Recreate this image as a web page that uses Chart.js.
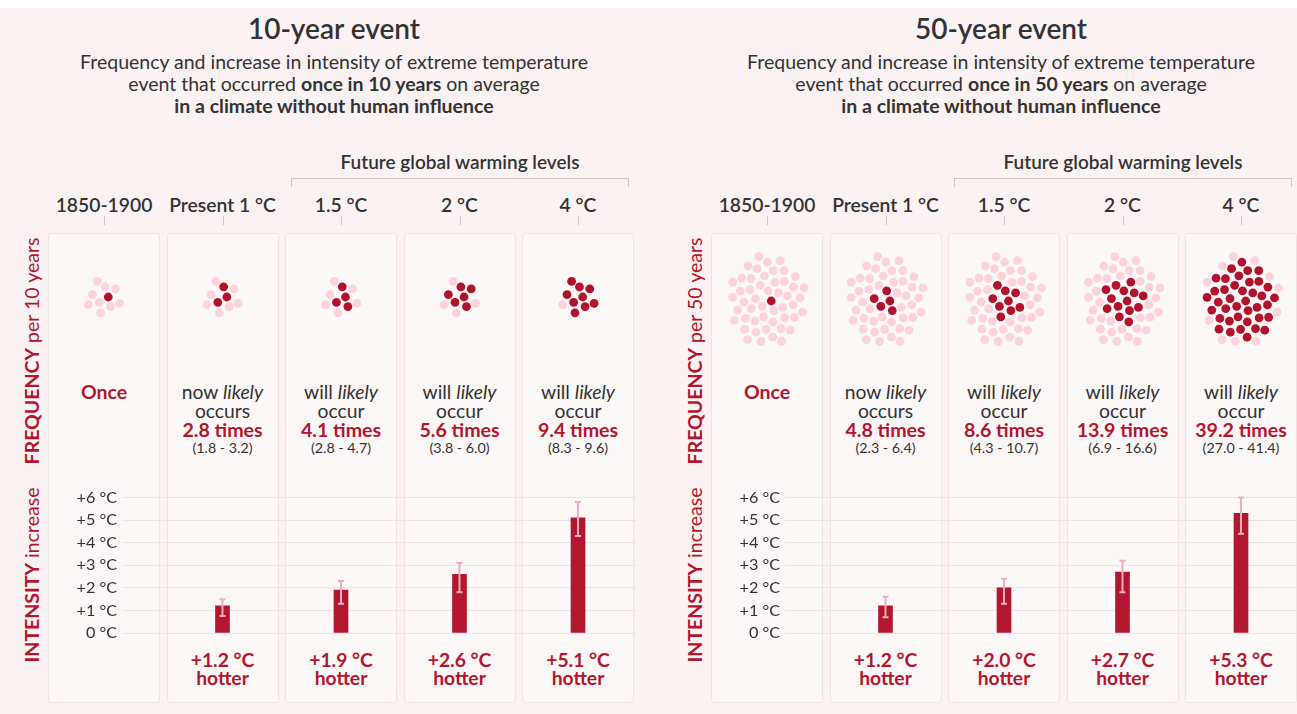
<!DOCTYPE html>
<html><head><meta charset="utf-8">
<script src="https://cdn.jsdelivr.net/npm/chart.js@4.4.1/dist/chart.umd.min.js"></script>
<style>
html,body{margin:0;padding:0;background:#fff;}
body{width:1297px;height:714px;overflow:hidden;position:relative;font-family:Lato,'Noto Sans',sans-serif;color:#333;}
#bg{position:absolute;left:0;top:8px;width:1297px;height:706px;background:#fbf3f3;}
.t{position:absolute;white-space:nowrap;transform:translate(-50%,-50%);text-align:center;line-height:1;}
.panel{position:absolute;top:233px;height:470px;width:112px;background:#fdf8f8;border:1px solid #f1e3e4;border-radius:3px;box-sizing:border-box;}
.red{color:#b3162f;font-weight:700 !important;}
.b{font-weight:600;}
.t b{font-weight:700;}
.rot{position:absolute;white-space:nowrap;transform:translate(-50%,-50%) rotate(-90deg);line-height:1;color:#b3162f;font-size:19.5px;}
.rot b{font-weight:700;}
.vl{position:absolute;width:1px;background:#cfc6c6;}
.hl{position:absolute;height:1px;background:#cfc6c6;}
canvas{position:absolute;}
</style>
</head><body>
<div id="bg"></div>
<script>
// ---------- data ----------
const categories = ['1850-1900', 'Present 1 °C', '1.5 °C', '2 °C', '4 °C'];
const yTickValues = [0, 1, 2, 3, 4, 5, 6];

const freq10 = [1, 2.8, 4.1, 5.6, 9.4];
const freq10Low = [null, 1.8, 2.8, 3.8, 8.3];
const freq10High = [null, 3.2, 4.7, 6.0, 9.6];
const intensity10 = [null, 1.2, 1.9, 2.6, 5.1];
const intensity10Low = [null, 0.75, 1.3, 1.8, 4.3];
const intensity10High = [null, 1.5, 2.3, 3.1, 5.8];

const freq50 = [1, 4.8, 8.6, 13.9, 39.2];
const freq50Low = [null, 2.3, 4.3, 6.9, 27.0];
const freq50High = [null, 6.4, 10.7, 16.6, 41.4];
const intensity50 = [null, 1.2, 2.0, 2.7, 5.3];
const intensity50Low = [null, 0.7, 1.3, 1.8, 4.4];
const intensity50High = [null, 1.6, 2.4, 3.2, 6.0];

// ---------- styles ----------
const RED = '#b3162f';
const DARK_DOT = '#b1132c';
const LIGHT_DOT = '#fcd3db';
const ERR = '#eab0b9';
const GRID = '#eee4e4';

const halves = [
  {x0: 0, titleX: 334, years: 10, title: '10-year event', freq: freq10, lo: freq10Low, hi: freq10High,
   val: intensity10, vlo: intensity10Low, vhi: intensity10High, dotY: 297},
  {x0: 663, titleX: 338, years: 50, title: '50-year event', freq: freq50, lo: freq50Low, hi: freq50High,
   val: intensity50, vlo: intensity50Low, vhi: intensity50High, dotY: 301}
];

const PANEL_LEFT = 48, PITCH = 118.5;
const colCenter = i => PANEL_LEFT + 56 + PITCH * i;

function txt(html, x, y, size, extra) {
  const d = document.createElement('div');
  d.className = 't ' + (extra || '');
  d.style.left = x + 'px'; d.style.top = y + 'px'; d.style.fontSize = size + 'px';
  d.innerHTML = html;
  document.body.appendChild(d);
  return d;
}
function box(cls, x, y, w, h) {
  const d = document.createElement('div');
  d.className = cls;
  d.style.left = x + 'px'; d.style.top = y + 'px';
  if (w != null) d.style.width = w + 'px';
  if (h != null) d.style.height = h + 'px';
  document.body.appendChild(d);
  return d;
}

const errorBarPlugin = {
  id: 'errbars',
  afterDatasetsDraw(chart, args, opts) {
    const {ctx, scales: {x, y}} = chart;
    ctx.save();
    ctx.strokeStyle = ERR; ctx.lineWidth = 2;
    opts.lo.forEach((l, i) => {
      if (l == null) return;
      const px = x.getPixelForValue(i);
      const y1 = y.getPixelForValue(l), y2 = y.getPixelForValue(opts.hi[i]);
      ctx.beginPath();
      ctx.moveTo(px, y1); ctx.lineTo(px, y2);
      ctx.moveTo(px - 3, y1); ctx.lineTo(px + 3, y1);
      ctx.moveTo(px - 3, y2); ctx.lineTo(px + 3, y2);
      ctx.stroke();
    });
    ctx.restore();
  }
};

halves.forEach(h => {
  const X = h.x0;
  txt(h.title, X + h.titleX, 28, 28, 'b');
  txt('Frequency and increase in intensity of extreme temperature', X + h.titleX, 62, 19.5);
  txt('event that occurred <b>once in ' + h.years + ' years</b> on average', X + h.titleX, 84, 19.5);
  txt('<b>in a climate without human influence</b>', X + h.titleX, 106, 19.5);

  txt('Future global warming levels', X + 460, 161, 19, 'b');
  box('hl', X + 291, 178, 337, 1);
  box('vl', X + 291, 178, 1, 9);
  box('vl', X + 628, 178, 1, 9);

  categories.forEach((c, i) => {
    const cx = X + colCenter(i);
    txt(c, cx, 205, 19.3, 'b');
    box('vl', cx, 216, 1, 9);
    box('panel', X + PANEL_LEFT + PITCH * i, 233, null, null);
  });

  txt('<b>FREQUENCY</b> per ' + h.years + ' years', X + 32, 351, 19.5, '').className = 'rot';
  txt('<b>INTENSITY</b> increase', X + 32, 575, 19.5, '').className = 'rot';

  // frequency texts
  h.freq.forEach((f, i) => {
    const cx = X + colCenter(i);
    if (i === 0) { txt('Once', cx, 392, 19.5, 'red'); return; }
    txt((i === 1 ? 'now' : 'will') + ' <i>likely</i>', cx, 392, 19.3);
    txt(i === 1 ? 'occurs' : 'occur', cx, 411, 19.3);
    txt(f.toFixed(1) + ' times', cx, 430, 19.6, 'red');
    txt('(' + h.lo[i].toFixed(1) + ' - ' + h.hi[i].toFixed(1) + ')', cx, 448, 14.3);
    txt('+' + h.val[i].toFixed(1) + ' °C', cx, 660, 19.3, 'red');
    txt('hotter', cx, 678, 19.3, 'red');
  });

  // ---------- dots (scatter) ----------
  const dark = [], light = [];
  const GA = Math.PI * (3 - Math.sqrt(5));
  const c = 5.6, stretch = 1.15;
  h.freq.forEach((f, i) => {
    const n = h.years, nd = Math.round(f);
    for (let k = 0; k < n; k++) {
      const r = c * Math.sqrt(k + 0.5), th = k * GA;
      const p = {x: i + r * Math.cos(th) / PITCH, y: r * Math.sin(th) * stretch};
      (k < nd ? dark : light).push(p);
    }
  });
  const dc = document.createElement('canvas');
  const dLeft = X + PANEL_LEFT + 56 - PITCH / 2;
  const dW = PITCH * 5;
  dc.width = Math.round(dW); dc.height = 120;
  dc.style.left = dLeft + 'px'; dc.style.top = (h.dotY - 60) + 'px';
  dc.style.width = Math.round(dW) + 'px'; dc.style.height = '120px';
  document.body.appendChild(dc);
  new Chart(dc, {
    type: 'scatter',
    data: {datasets: [
      {data: light, backgroundColor: LIGHT_DOT, pointRadius: 4.4, borderWidth: 0},
      {data: dark, backgroundColor: DARK_DOT, pointRadius: 4.4, borderWidth: 0}
    ]},
    options: {
      responsive: false, animation: false, events: [],
      layout: {autoPadding: false, padding: 0},
      plugins: {legend: {display: false}, tooltip: {enabled: false}},
      scales: {
        x: {type: 'linear', display: false, min: -0.5, max: 4.5},
        y: {type: 'linear', display: false, min: -60, max: 60, reverse: true}
      }
    }
  });

  // ---------- bars ----------
  const bc = document.createElement('canvas');
  const cW = 660, cTop = 480, cH = 170;
  bc.width = cW; bc.height = cH;
  bc.style.left = X + 'px'; bc.style.top = cTop + 'px';
  bc.style.width = cW + 'px'; bc.style.height = cH + 'px';
  document.body.appendChild(bc);
  const areaL = 122, areaR = 636;
  const xmin = (areaL - colCenter(0)) / PITCH;
  const xmax = xmin + (areaR - areaL) / PITCH;
  new Chart(bc, {
    type: 'bar',
    data: {datasets: [{
      data: h.val.map((v, i) => ({x: i, y: v})).filter(p => p.y != null),
      backgroundColor: RED, barThickness: 14
    }]},
    options: {
      responsive: false, animation: false, events: [],
      layout: {autoPadding: false, padding: {top: 497.5 - cTop, bottom: cTop + cH - 633, left: 0, right: cW - areaR}},
      plugins: {legend: {display: false}, tooltip: {enabled: false},
        errbars: {lo: h.vlo, hi: h.vhi}},
      scales: {
        x: {type: 'linear', display: false, offset: false, min: xmin, max: xmax},
        y: {
          min: 0, max: 6,
          afterFit: a => { a.width = areaL; },
          afterBuildTicks: a => { a.ticks = yTickValues.map(v => ({value: v})); },
          border: {display: false},
          grid: {color: GRID, drawTicks: false, lineWidth: 1},
          ticks: {
            padding: 5, color: '#333',
            font: {family: 'Lato', size: 16.2},
            callback: v => (v === 0 ? '0' : '+' + v) + ' °C'
          }
        }
      }
    },
    plugins: [errorBarPlugin]
  });
});
</script>
</body></html>
